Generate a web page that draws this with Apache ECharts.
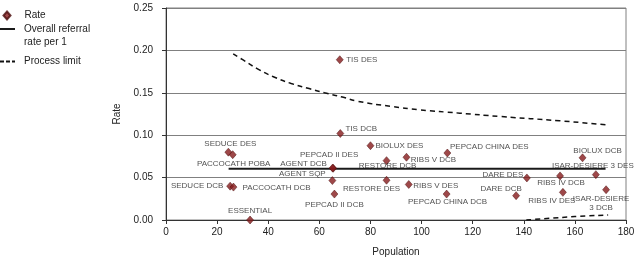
<!DOCTYPE html>
<html>
<head>
<meta charset="utf-8">
<script src="https://cdn.jsdelivr.net/npm/echarts@6/dist/echarts.min.js"></script>
<style>
  html, body { margin: 0; padding: 0; background: #fff; }
  #chart { width: 638px; height: 262px; }
</style>
</head>
<body>
<div id="chart"></div>
<script>
// trial names, population and referral rate
const trialNames = [
  'TIS DES', 'TIS DCB', 'SEDUCE DES', 'PACCOCATH POBA', 'PEPCAD II DES', 'AGENT DCB',
  'AGENT SQP', 'RESTORE DCB', 'BIOLUX DES', 'RESTORE DES', 'RIBS V DCB', 'PEPCAD CHINA DES',
  'RIBS V DES', 'PEPCAD CHINA DCB', 'DARE DES', 'DARE DCB', 'RIBS IV DCB', 'RIBS IV DES',
  'BIOLUX DCB', 'ISAR-DESIERE 3 DES', 'ISAR-DESIERE 3 DCB', 'SEDUCE DCB', 'PACCOCATH DCB',
  'PEPCAD II DCB', 'ESSENTIAL'
];
const population = [
  68.0, 68.2, 24.4, 26.1, 65.4, 65.2,
  65.1, 86.3, 80.0, 86.3, 94.1, 110.1,
  95.0, 109.8, 141.2, 137.0, 154.2, 155.3,
  163.0, 168.2, 172.2, 25.1, 26.4,
  65.9, 32.9
];
const rate = [
  0.189, 0.102, 0.080, 0.077, 0.061, 0.0612,
  0.0465, 0.070, 0.0876, 0.0469, 0.074, 0.079,
  0.0419, 0.0306, 0.0496, 0.0287, 0.052, 0.0326,
  0.0733, 0.0535, 0.0357, 0.0399, 0.0388,
  0.0306, 0.000
];

// overall referral rate line
const overallRate = 0.0605;
const overallRange = [24.5, 172];

// process limit curves [population, rate]
const upperLimit = [
  [26.3, 0.196], [30, 0.189], [36, 0.178], [42, 0.169], [49, 0.161], [56, 0.155],
  [62, 0.150], [69, 0.145], [75, 0.140], [88, 0.134], [99, 0.130], [115, 0.126],
  [131, 0.122], [154, 0.117], [173, 0.112]
];
const lowerLimit = [[141, 0.000], [150, 0.002], [160, 0.004], [173, 0.006]];

// label placement (offset of label centre from the marker, px)
const labelOffsets = {
  'TIS DES': [22, 0], 'TIS DCB': [21, -5], 'SEDUCE DES': [2, -8], 'PACCOCATH POBA': [1, 9],
  'PEPCAD II DES': [-4, -13], 'AGENT DCB': [-29, -4], 'AGENT SQP': [-30, -7],
  'RESTORE DCB': [1, 5], 'BIOLUX DES': [29, 0], 'RESTORE DES': [-15, 9],
  'RIBS V DCB': [27, 3], 'PEPCAD CHINA DES': [42, -6], 'RIBS V DES': [27, 1],
  'PEPCAD CHINA DCB': [1, 8], 'DARE DES': [-24, -3], 'DARE DCB': [-15, -7],
  'RIBS IV DCB': [1, 7], 'RIBS IV DES': [-11, 8], 'BIOLUX DCB': [15, -7],
  'ISAR-DESIERE 3 DES': [-3, -9], 'ISAR-DESIERE 3 DCB': [-5, 14],
  'SEDUCE DCB': [-33, 0], 'PACCOCATH DCB': [43, 1], 'PEPCAD II DCB': [0, 11], 'ESSENTIAL': [0, -9]
};
const labelText = { 'ISAR-DESIERE 3 DCB': 'ISAR-DESIERE\n3 DCB' };

const FONT = '"Liberation Sans", Arial, sans-serif';
const OVERALL = 'Overall referral rate per 1';

const pointData = trialNames.map(function (name, i) {
  return {
    name: name,
    value: [population[i], rate[i]],
    label: { formatter: labelText[name] || name }
  };
});

const legendText = { fontSize: 10, color: '#222', fontFamily: FONT, lineHeight: 13 };

const myChart = echarts.init(document.getElementById('chart'), null, { renderer: 'canvas' });
myChart.setOption({
  animation: false,
  textStyle: { fontFamily: FONT },
  legend: [
    {
      left: 2.5, top: 9, padding: 0, itemWidth: 7, itemHeight: 8,
      data: [{ name: 'Rate', icon: 'diamond' }],
      textStyle: Object.assign({ padding: [0, 0, 0, 9] }, legendText)
    },
    {
      left: 0, top: 9.5, padding: 0, itemWidth: 15, itemHeight: 2,
      data: [{ name: OVERALL, icon: 'rect' }],
      formatter: function () { return ' \nOverall referral\nrate per 1'; },
      textStyle: Object.assign({ padding: [0, 0, 0, 4] }, legendText)
    },
    {
      left: 0, top: 55, padding: 0, itemWidth: 15, itemHeight: 2,
      data: [{ name: 'Process limit', icon: 'path://M0,0h4v2h-4z M6,0h4v2h-4z M12,0h3v2h-3z' }],
      textStyle: Object.assign({ padding: [0, 0, 0, 4] }, legendText)
    }
  ],
  grid: {
    left: 166, right: 12, top: 8, bottom: 40,
    show: true, borderColor: '#808080', borderWidth: 1
  },
  xAxis: {
    type: 'value', min: 0, max: 180, interval: 20,
    name: 'Population', nameLocation: 'middle', nameGap: 27,
    nameTextStyle: { fontSize: 10, color: '#222', fontFamily: FONT },
    axisLine: { lineStyle: { color: '#333' } },
    axisTick: { show: true, length: 4, lineStyle: { color: '#333' } },
    axisLabel: { fontSize: 10, color: '#222', margin: 7, fontFamily: FONT },
    splitLine: { show: false }
  },
  yAxis: {
    type: 'value', min: 0, max: 0.25, interval: 0.05,
    name: 'Rate', nameLocation: 'middle', nameGap: 38, nameRotate: 90,
    nameTextStyle: { fontSize: 10, color: '#222', fontFamily: FONT },
    axisLine: { show: true, lineStyle: { color: '#333' } },
    axisTick: { show: true, length: 4, lineStyle: { color: '#333' } },
    axisLabel: { fontSize: 10, color: '#222', margin: 13, fontFamily: FONT,
      formatter: function (v) { return v.toFixed(2); } },
    splitLine: { show: true, lineStyle: { color: '#808080', width: 1 } }
  },
  series: [
    {
      name: OVERALL,
      type: 'line',
      symbol: 'none',
      data: [[overallRange[0], overallRate], [overallRange[1], overallRate]],
      lineStyle: { color: '#1a1a1a', width: 2 },
      itemStyle: { color: '#1a1a1a' },
      z: 2
    },
    {
      name: 'Process limit',
      type: 'line',
      symbol: 'none',
      smooth: true,
      data: upperLimit,
      lineStyle: { color: '#111', width: 1.5, type: [5, 4] },
      itemStyle: { color: '#111' },
      z: 2
    },
    {
      name: 'Process limit',
      type: 'line',
      symbol: 'none',
      smooth: true,
      data: lowerLimit,
      lineStyle: { color: '#111', width: 1.5, type: [5, 4] },
      itemStyle: { color: '#111' },
      z: 2
    },
    {
      name: 'Rate',
      type: 'scatter',
      symbol: 'diamond',
      symbolSize: [7, 8],
      itemStyle: { color: '#861a1c', borderColor: '#4a0c0c', borderWidth: 0.6 },
      label: {
        show: true,
        position: 'inside',
        align: 'center',
        verticalAlign: 'middle',
        fontSize: 8,
        lineHeight: 9,
        color: '#1e1e1e',
        fontFamily: FONT
      },
      labelLayout: function (params) {
        const off = labelOffsets[trialNames[params.dataIndex]] || [0, 0];
        return { dx: off[0], dy: off[1], hideOverlap: false };
      },
      data: pointData,
      z: 5
    }
  ]
});
</script>
</body>
</html>
